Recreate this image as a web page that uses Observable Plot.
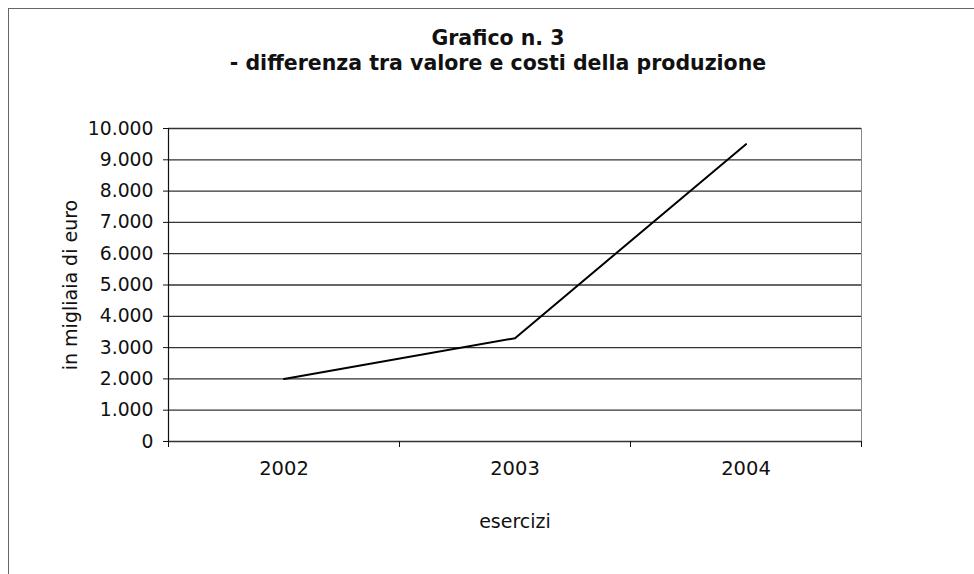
<!DOCTYPE html>
<html>
<head>
<meta charset="utf-8">
<script src="https://cdn.jsdelivr.net/npm/d3@7"></script>
<script src="https://cdn.jsdelivr.net/npm/@observablehq/plot@0.6"></script>
<style>
  html, body { margin: 0; padding: 0; background: #fff; }
  #wrap { position: relative; width: 974px; height: 574px; overflow: hidden; font-family: "DejaVu Sans", Verdana, sans-serif; }
  #frame { position: absolute; left: 8px; top: 8px; width: 1000px; height: 600px; border-top: 1px solid #666; border-left: 1px solid #666; }
  #title { position: absolute; left: 0; width: 996px; top: 26px; text-align: center; font-weight: bold; font-size: 20.5px; line-height: 25px; color: #111; }
  #chart { position: absolute; left: 0; top: 0; }
</style>
</head>
<body>
<div id="wrap">
  <div id="frame"></div>
  <div id="chart"></div>
  <div id="title">Grafico n. 3<br>- differenza tra valore e costi della produzione</div>
</div>
<script>
const years = [2002, 2003, 2004];
const values = [2000, 3300, 9500];
const yTicks = [0, 1000, 2000, 3000, 4000, 5000, 6000, 7000, 8000, 9000, 10000];
const xLabel = "esercizi";
const yLabel = "in migliaia di euro";

const data = years.map((y, i) => ({year: y, value: values[i]}));
const bounds = [years[0] - 0.5, ...years.map(y => y + 0.5)];
const fmt = d => d3.format(",")(d).replace(/,/g, ".");

const chart = Plot.plot({
  width: 974,
  height: 574,
  marginTop: 128,
  marginBottom: 133,
  marginLeft: 168,
  marginRight: 113,
  style: { fontFamily: "DejaVu Sans, Verdana, sans-serif", fontSize: "18.5px", background: "transparent", color: "#111" },
  x: { domain: [bounds[0], bounds[bounds.length - 1]], axis: null },
  y: { domain: [0, 10000], axis: null },
  marks: [
    Plot.ruleY(yTicks, { stroke: "#333", strokeWidth: 1.3 }),
    Plot.ruleX([bounds[bounds.length - 1]], { stroke: "#888", strokeWidth: 1 }),
    Plot.ruleX([bounds[0]], { stroke: "#111", strokeWidth: 1.2 }),
    Plot.axisY({ ticks: yTicks, tickFormat: fmt, tickSize: 5, tickPadding: 10, label: null, fontSize: 18.8 }),
    Plot.axisX({ ticks: bounds, tickFormat: () => "", tickSize: 6, label: null }),
    Plot.axisX({ ticks: years, tickFormat: d => String(d), tickSize: 0, tickPadding: 20, label: null, fontSize: 19.5 }),
    Plot.line(data, { x: "year", y: "value", stroke: "#000", strokeWidth: 2 }),
    Plot.text([xLabel], { frameAnchor: "bottom", dy: 86, fontSize: 19 }),
    Plot.text([yLabel], { frameAnchor: "left", textAnchor: "middle", dx: -98, rotate: -90, fontSize: 19 })
  ]
});
document.getElementById("chart").appendChild(chart);
</script>
</body>
</html>
